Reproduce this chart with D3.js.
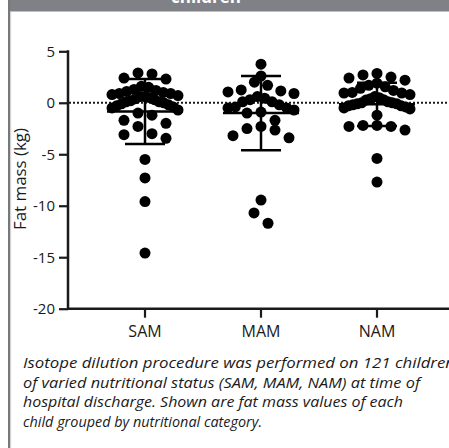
<!DOCTYPE html>
<html><head><meta charset="utf-8">
<script src="https://cdn.jsdelivr.net/npm/d3@7"></script>
<style>html,body{margin:0;padding:0;background:#fff;}svg{display:block;}</style>
</head><body>
<svg id="c" width="449" height="448"></svg>
<script>
const categories = ["SAM", "MAM", "NAM"];
const samValues = [2.9, 2.8, 2.4, 2.3, 1.6, 1.5, 1.3, 1.2, 1.1, 1.0, 0.9, 0.9, 0.8, 0.7, 0.6, 0.6, 0.5, 0.4, 0.3, 0.2, 0.1, 0.1, 0.0, -0.1, -0.2, -0.3, -0.4, -0.5, -0.7, -1.0, -1.2, -1.7, -2.0, -2.3, -3.0, -3.1, -3.45, -5.5, -7.3, -9.6, -14.6];
const mamValues = [3.75, 2.6, 2.0, 1.7, 1.25, 1.15, 1.05, 0.9, 0.6, 0.45, 0.3, 0.1, 0.1, -0.2, -0.4, -0.5, -0.5, -0.7, -0.9, -1.0, -1.7, -2.3, -2.5, -2.65, -3.2, -3.4, -9.45, -10.7, -11.7];
const namValues = [2.85, 2.7, 2.5, 2.4, 2.2, 1.9, 1.7, 1.55, 1.4, 1.2, 1.0, 0.95, 0.95, 0.8, 0.6, 0.5, 0.4, 0.3, 0.26, 0.1, 0.0, 0.0, -0.1, -0.1, -0.2, -0.3, -0.3, -0.4, -0.5, -0.6, -1.2, -2.2, -2.2, -2.3, -2.3, -2.65, -5.4, -7.7];
const groupMeans = [-0.85, -1.0, -0.15];
const groupSDs = [3.15, 3.6, 2.1];
const yTicks = [5, 0, -5, -10, -15, -20];
const yLabel = "Fat mass (kg)";
const headerText = "children";
const captionLines = [
  "Isotope dilution procedure was performed on 121 children",
  "of varied nutritional status (SAM, MAM, NAM) at time of",
  "hospital discharge. Shown are fat mass values of each",
  "child grouped by nutritional category."
];
const captionWidths = [432, 397, 380, 239];

const seriesValues = [samValues, mamValues, namValues];
const svg = d3.select("#c");
const font = "'Open Sans', 'Noto Sans', sans-serif";
const ink = "#1a1a1a";

// frame
svg.append("rect").attr("x", 8).attr("y", 0).attr("width", 441).attr("height", 11.5).attr("fill", "#808186");
svg.append("text").attr("x", 206).attr("y", 3).attr("text-anchor", "middle")
  .attr("font-family", font).attr("font-weight", "bold").attr("font-size", 17).attr("fill", "#fff").text(headerText);
svg.append("rect").attr("x", 8).attr("y", 0).attr("width", 2.2).attr("height", 448).attr("fill", "#77787c");
svg.append("rect").attr("x", 10.2).attr("y", 11.5).attr("width", 1).attr("height", 436).attr("fill", "#d0d0d2");

const y = d3.scaleLinear().domain([-20, 5]).range([308.7, 51.3]);
const x = d3.scaleBand().domain(categories).range([87, 435]);

// y axis
const yAxis = svg.append("g").attr("transform", "translate(68,0)")
  .call(d3.axisLeft(y).tickValues(yTicks).tickSize(9).tickPadding(4).tickFormat(d3.format("d")));
yAxis.select(".domain").remove();
yAxis.selectAll(".tick line").attr("stroke", ink).attr("stroke-width", 2.2);
yAxis.selectAll(".tick text").attr("font-family", font).attr("font-size", 15).attr("fill", ink)
  .text(d => d < 0 ? "-" + Math.abs(d) : d);
svg.append("line").attr("x1", 68).attr("x2", 68).attr("y1", y(5) - 1).attr("y2", y(-20) + 1)
  .attr("stroke", ink).attr("stroke-width", 2.5);

// x axis
const xAxis = svg.append("g").attr("transform", `translate(0,${y(-20)})`)
  .call(d3.axisBottom(x).tickSize(9).tickPadding(8));
xAxis.select(".domain").remove();
xAxis.selectAll(".tick line").attr("stroke", ink).attr("stroke-width", 2.2);
xAxis.selectAll(".tick text").attr("font-family", font).attr("font-size", 16).attr("fill", ink);
svg.append("line").attr("x1", 67).attr("x2", 449).attr("y1", y(-20)).attr("y2", y(-20))
  .attr("stroke", ink).attr("stroke-width", 2.5);

// zero dotted line
svg.append("line").attr("x1", 69).attr("x2", 447).attr("y1", y(0)).attr("y2", y(0))
  .attr("stroke", ink).attr("stroke-width", 2).attr("stroke-dasharray", "2,2");

// y label
svg.append("text").attr("transform", `translate(26,${179}) rotate(-90)`).attr("text-anchor", "middle")
  .attr("font-family", font).attr("font-size", 16).attr("fill", ink)
  .attr("textLength", 102).attr("lengthAdjust", "spacingAndGlyphs").text(yLabel);

// row-binned scatter (GraphPad style)
const r = 5.5, binH = 1.4, maxHalf = 33, maxStep = 14;
function layout(values, cx) {
  const bins = d3.groups(values, v => Math.round(v / binH));
  const out = [];
  bins.forEach(([, vals]) => {
    const sorted = vals.slice().sort((a, b) => b - a);
    const n = sorted.length;
    const step = n > 1 ? Math.min(maxStep, (2 * maxHalf) / (n - 1)) : 0;
    const offs = d3.range(n).map(j => (j - (n - 1) / 2) * step)
      .sort((a, b) => Math.abs(a) - Math.abs(b) || a - b);
    sorted.forEach((v, j) => out.push({v, px: cx + offs[j], py: y(v)}));
  });
  return out;
}

categories.forEach((c, i) => {
  const cx = x(c) + x.bandwidth() / 2;
  const pts = layout(seriesValues[i], cx);
  svg.append("g").selectAll("circle").data(pts).join("circle")
    .attr("cx", d => d.px).attr("cy", d => d.py).attr("r", r).attr("fill", "#000");
  const m = groupMeans[i], s = groupSDs[i];
  const g = svg.append("g").attr("stroke", "#000").attr("stroke-width", 2.5);
  g.append("line").attr("x1", cx).attr("x2", cx).attr("y1", y(m + s)).attr("y2", y(m - s));
  g.append("line").attr("x1", cx - 38).attr("x2", cx + 38).attr("y1", y(m)).attr("y2", y(m));
  g.append("line").attr("x1", cx - 20).attr("x2", cx + 20).attr("y1", y(m + s)).attr("y2", y(m + s));
  g.append("line").attr("x1", cx - 20).attr("x2", cx + 20).attr("y1", y(m - s)).attr("y2", y(m - s));
});

// caption
captionLines.forEach((t, i) => {
  svg.append("text").attr("x", 23).attr("y", 368 + i * 19.6)
    .attr("font-family", font).attr("font-style", "italic").attr("font-size", 14).attr("fill", ink)
    .attr("textLength", captionWidths[i]).attr("lengthAdjust", "spacingAndGlyphs").text(t);
});
</script>
</body></html>
